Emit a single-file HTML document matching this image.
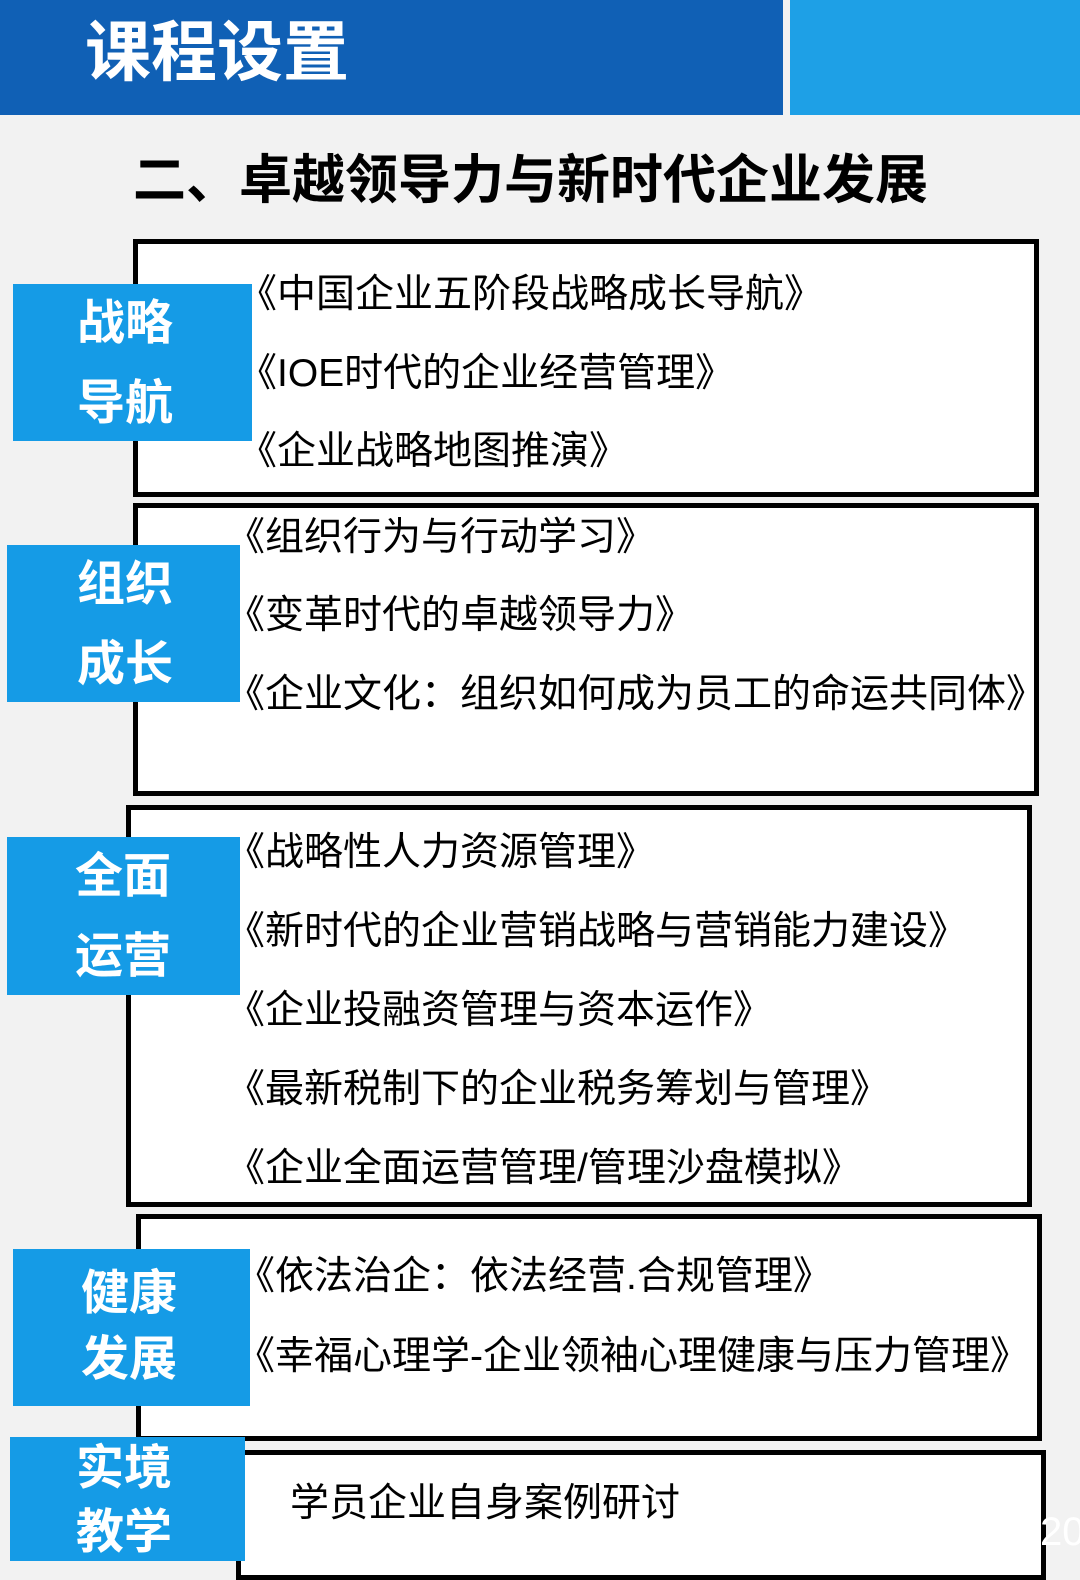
<!DOCTYPE html>
<html><head><meta charset="utf-8"><style>
body{margin:0;width:1080px;height:1561px;background:#f2f2f2;position:relative;overflow:hidden;font-family:"Liberation Sans","Noto Sans CJK SC",sans-serif;}
div{position:absolute;box-sizing:border-box;}
.hd1{left:0;top:0;width:783px;height:115px;background:#1060b5;}
.hd2{left:790px;top:0;width:290px;height:115px;background:#1ea0e6;}
.ht{left:85px;top:10px;font-size:66px;font-weight:bold;color:#fff;line-height:84px;white-space:nowrap;}
.title{left:133px;top:148px;font-size:53px;font-weight:bold;color:#000;line-height:66px;white-space:nowrap;}
.box{background:#fff;border:5px solid #000;}
.lab{background:#159be6;color:#fff;font-weight:bold;font-size:48px;line-height:80px;padding-left:64px;}
.t{font-size:39px;color:#000;white-space:nowrap;line-height:50px;}
</style></head><body>
<div class="hd1"></div><div class="hd2"></div>
<div class="ht">课程设置</div>
<div class="title">二、卓越领导力与新时代企业发展</div>

<div class="box" style="left:133px;top:239px;width:906px;height:258px"></div>
<div class="box" style="left:133px;top:503px;width:906px;height:293px"></div>
<div class="box" style="left:126px;top:805px;width:906px;height:402px"></div>
<div class="box" style="left:136px;top:1214px;width:906px;height:227px"></div>
<div class="box" style="left:236px;top:1450px;width:810px;height:130px"></div>

<div class="t" style="left:238px;top:270px">《中国企业五阶段战略成长导航》</div>
<div class="t" style="left:238px;top:349px">《IOE时代的企业经营管理》</div>
<div class="t" style="left:238px;top:427px">《企业战略地图推演》</div>

<div class="t" style="left:226px;top:513px">《组织行为与行动学习》</div>
<div class="t" style="left:226px;top:591px">《变革时代的卓越领导力》</div>
<div class="t" style="left:226px;top:670px">《企业文化：组织如何成为员工的命运共同体》</div>

<div class="t" style="left:226px;top:828px">《战略性人力资源管理》</div>
<div class="t" style="left:226px;top:907px">《新时代的企业营销战略与营销能力建设》</div>
<div class="t" style="left:226px;top:986px">《企业投融资管理与资本运作》</div>
<div class="t" style="left:226px;top:1065px">《最新税制下的企业税务筹划与管理》</div>
<div class="t" style="left:226px;top:1144px">《企业全面运营管理/管理沙盘模拟》</div>

<div class="t" style="left:236px;top:1252px">《依法治企：依法经营.合规管理》</div>
<div class="t" style="left:236px;top:1332px">《幸福心理学-企业领袖心理健康与压力管理》</div>

<div class="t" style="left:290px;top:1479px">学员企业自身案例研讨</div>

<div class="lab" style="left:13px;top:284px;width:239px;height:157px;padding-top:0">战略<br>导航</div>
<div class="lab" style="left:7px;top:545px;width:233px;height:157px;padding-left:70px">组织<br>成长</div>
<div class="lab" style="left:7px;top:837px;width:233px;height:158px;padding-left:68px">全面<br>运营</div>
<div class="lab" style="left:13px;top:1249px;width:237px;height:157px;padding-left:68px;line-height:66px;padding-top:12px">健康<br>发展</div>
<div class="lab" style="left:10px;top:1437px;width:235px;height:124px;padding-left:66px;line-height:64px;padding-top:0">实境<br>教学</div>
<div style="left:1040px;top:1510px;font-size:40px;color:#fff;">20</div>
</body></html>
